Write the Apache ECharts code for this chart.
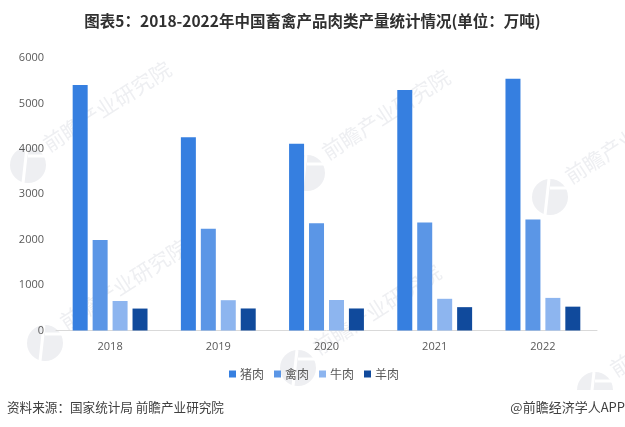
<!DOCTYPE html>
<html>
<head>
<meta charset="utf-8">
<style>html,body{margin:0;padding:0;background:#fff}#chart{width:625px;height:427px}</style>
<script src="https://cdn.jsdelivr.net/npm/echarts@6/dist/echarts.min.js"></script>
</head>
<body>
<div id="chart"></div>
<script>
var years = ['2018', '2019', '2020', '2021', '2022'];
var pork = [5404, 4255, 4113, 5296, 5541];
var poultry = [1994, 2239, 2361, 2380, 2443];
var beef = [650, 667, 672, 698, 718];
var mutton = [483, 485, 485, 514, 525];
var yTicks = [0, 1000, 2000, 3000, 4000, 5000, 6000];

var cjk = '"Noto Sans CJK SC", sans-serif';
var myChart = echarts.init(document.getElementById('chart'));

// 水印：圆形标志 + 斜排文字，(x, y)是标志圆心
function mark(x, y, half){
	var logoColor = '#eeeff2';
	var logo = half
		? {type: 'sector', z: 0, shape: {cx: x, cy: y, r: 18, startAngle: Math.PI, endAngle: Math.PI * 2}, style: {fill: logoColor}}
		: {type: 'circle', z: 0, shape: {cx: x, cy: y, r: 18}, style: {fill: logoColor}};
	return [
		logo,
		{type: 'line', z: 0, shape: {x1: x - 5, y1: y + 18, x2: x - 1, y2: y - 18}, style: {stroke: '#fff', lineWidth: 3}},
		{type: 'line', z: 0, shape: {x1: x, y1: y - 9, x2: x + 18, y2: y - 9}, style: {stroke: '#fff', lineWidth: 3}},
		{type: 'text', z: 0, x: x + 17, y: y - 19, rotation: 0.57, style: {text: '前瞻产业研究院', font: '21px ' + cjk, fill: '#eeeff2', textAlign: 'left', textVerticalAlign: 'middle'}}
	];
}
var marks = [].concat(mark(28, 165), mark(45, 343), mark(307, 173), mark(298, 368), mark(550, 197), mark(595, 390, true));

function bar(name, data, color){
	return {name: name, type: 'bar', data: data, barWidth: 15, barGap: '33%', itemStyle: {color: color}};
}

var option = {
	animation: false,
	title: {
		text: '图表5：2018-2022年中国畜禽产品肉类产量统计情况(单位：万吨)',
		left: 'center',
		top: 8,
		textStyle: {fontFamily: cjk, fontSize: 15.5, fontWeight: 'bold', color: '#303030'}
	},
	legend: {
		top: 363,
		left: 224,
		itemWidth: 7,
		itemHeight: 7,
		itemGap: 10,
		icon: 'rect',
		textStyle: {fontFamily: cjk, fontSize: 12, color: '#595959', padding: [0, 0, 0, -1]}
	},
	grid: {left: 56, right: 28, top: 58, bottom: 96.5},
	xAxis: {
		type: 'category',
		data: years,
		axisTick: {show: false},
		axisLine: {lineStyle: {color: '#d9d9d9'}},
		axisLabel: {fontFamily: 'Open Sans', fontSize: 11, color: '#595959', margin: 11}
	},
	yAxis: {
		type: 'value',
		min: yTicks[0],
		max: yTicks[yTicks.length - 1],
		interval: 1000,
		splitLine: {show: false},
		axisLabel: {fontFamily: 'Open Sans', fontSize: 11, color: '#595959', margin: 12, formatter: function(v){return String(v)}}
	},
	series: [
		bar('猪肉', pork, '#367fe0'),
		bar('禽肉', poultry, '#5b96e6'),
		bar('牛肉', beef, '#8db5ef'),
		bar('羊肉', mutton, '#104a9c')
	],
	graphic: marks.concat([
		{type: 'text', left: 7, top: 401, style: {text: '资料来源：国家统计局 前瞻产业研究院', font: '12.6px ' + cjk, fill: '#404040'}},
		{type: 'text', right: 0, top: 401, style: {text: '@前瞻经济学人APP', font: '13px ' + cjk, fill: '#404040'}}
	])
};
myChart.setOption(option);
</script>
</body>
</html>
